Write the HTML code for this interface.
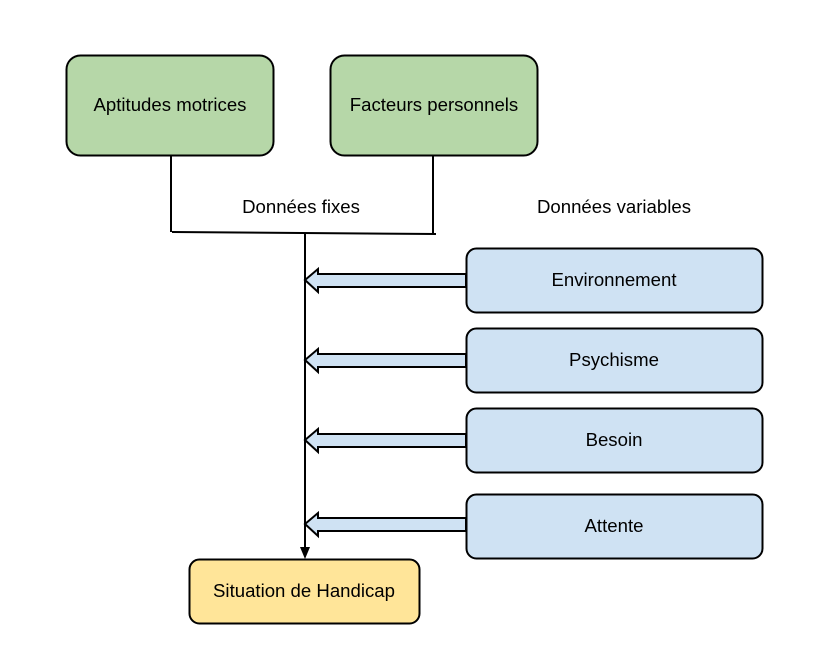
<!DOCTYPE html>
<html><head><meta charset="utf-8"><style>
html,body{margin:0;padding:0;background:#fff;}
svg{display:block;}
text{font-family:"Liberation Sans",Arial,sans-serif;font-size:18.6px;fill:#000;}
</style></head><body>
<svg width="816" height="653" viewBox="0 0 816 653" xmlns="http://www.w3.org/2000/svg">
<g stroke="#000" stroke-width="2">
<rect x="66.5" y="55.5" width="207" height="100" rx="14" fill="#b6d7a8"/>
<rect x="330.5" y="55.5" width="207" height="100" rx="14" fill="#b6d7a8"/>
<line x1="171" y1="156" x2="171" y2="232" fill="none"/>
<line x1="433" y1="156" x2="433" y2="234" fill="none"/>
<line x1="172" y1="232" x2="436" y2="234" fill="none"/>
<line x1="305" y1="233" x2="305" y2="548" fill="none"/>
<rect x="466.5" y="248.5" width="296" height="64" rx="10" fill="#cfe2f3"/>
<rect x="466.5" y="328.5" width="296" height="64" rx="10" fill="#cfe2f3"/>
<rect x="466.5" y="408.5" width="296" height="64" rx="10" fill="#cfe2f3"/>
<rect x="466.5" y="494.5" width="296" height="64" rx="10" fill="#cfe2f3"/>
<rect x="189.5" y="559.5" width="230" height="64" rx="10" fill="#ffe599"/>
</g>
<polygon points="300,547 310,547 305,559" fill="#000"/>
<g fill="#cfe2f3" stroke="#000" stroke-width="2" stroke-linejoin="miter">
<polygon points="466,274 318,274 318,269 305,280 318,292 318,287 466,287"/>
<polygon points="466,354 318,354 318,349 305,360 318,372 318,367 466,367"/>
<polygon points="466,434 318,434 318,429 305,440 318,452 318,447 466,447"/>
<polygon points="466,518 318,518 318,513 305,524 318,536 318,531 466,531"/>
</g>
<g text-anchor="middle">
<text x="170" y="111">Aptitudes motrices</text>
<text x="434" y="111">Facteurs personnels</text>
<text x="301" y="213">Données fixes</text>
<text x="614" y="213">Données variables</text>
<text x="614" y="286">Environnement</text>
<text x="614" y="366">Psychisme</text>
<text x="614" y="446">Besoin</text>
<text x="614" y="532">Attente</text>
<text x="304" y="597">Situation de Handicap</text>
</g>
</svg>
</body></html>
